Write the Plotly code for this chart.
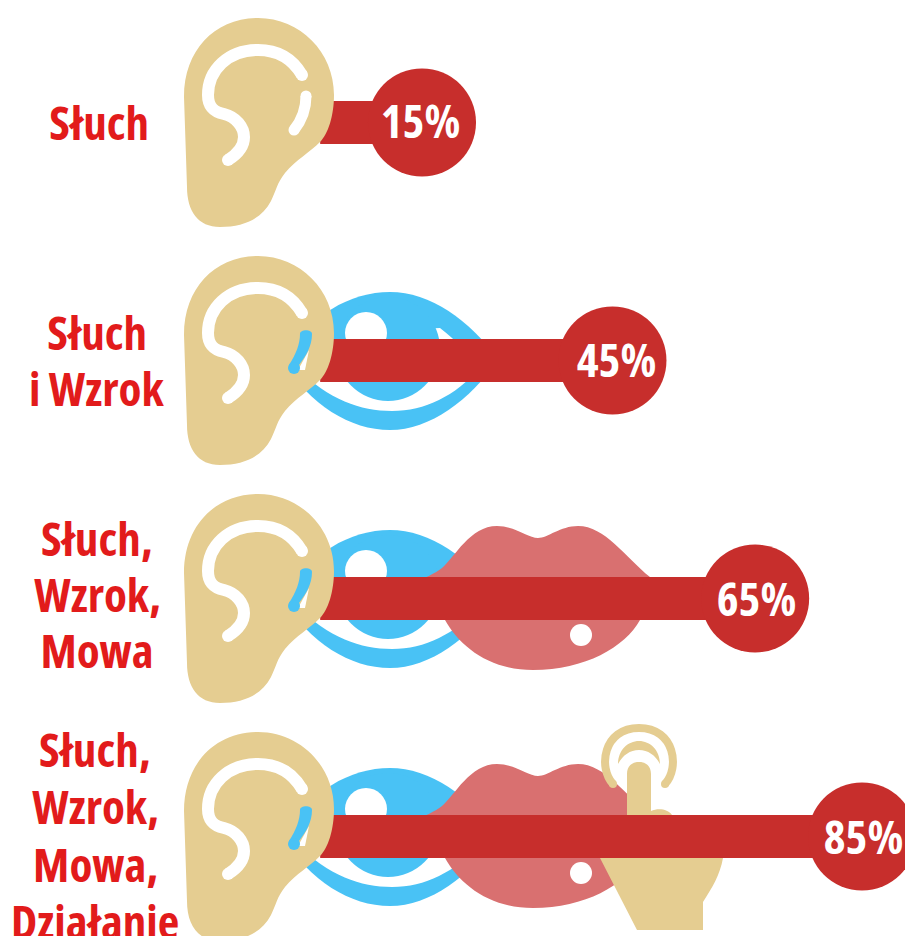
import re
import plotly.graph_objects as go

# ---- data ----
row_labels = [["Słuch"], ["Słuch", "i Wzrok"], ["Słuch,", "Wzrok,", "Mowa"], ["Słuch,", "Wzrok,", "Mowa,", "Działanie"]]
percent_values = [15, 45, 65, 85]
percent_text = ["15%", "45%", "65%", "85%"]
# bar lengths as drawn in the picture (the source infographic is not strictly to scale)
drawn_lengths = [15, 45.3, 68, 85]
senses_in_row = [1, 2, 3, 4]

# ---- style ----
EAR = "#E5CD91"; BLUE = "#49C2F5"; LIPS = "#D97070"; BAR = "#C72E2C"; LABEL = "#E21B1B"
FONT = "Open Sans, sans-serif"
ROW_PX = 238
W, H = 905, 936
PX_PER_UNIT = 6.286
X_LEFT = 15 - 422 / PX_PER_UNIT
Y_TOP = -122.5 / ROW_PX
BAR_BASE = -1.2

shapes = []

def shift(path, dy):
    return re.sub(r"(-?[\d.]+),(-?[\d.]+)", lambda m: f"{m.group(1)},{float(m.group(2)) + dy}", path)

def fill(path, color, dy, layer):
    shapes.append(dict(type="path", path=shift(path, dy), fillcolor=color, line=dict(width=0),
                       xref="x2", yref="y2", layer=layer))

def dot(cx, cy, r, color, dy, layer):
    shapes.append(dict(type="circle", x0=cx - r, x1=cx + r, y0=cy - r + dy, y1=cy + r + dy,
                       fillcolor=color, line=dict(width=0), xref="x2", yref="y2", layer=layer))

def stroke(path, color, width, ends, dy, layer):
    shapes.append(dict(type="path", path=shift(path, dy), fillcolor="rgba(0,0,0,0)",
                       line=dict(color=color, width=width), xref="x2", yref="y2", layer=layer))
    for (x, y) in ends:
        dot(x, y, width / 2, color, dy, layer)

# all icon outlines below are in row-4 pixel coordinates (bar centre y = 836.5)
EAR_PATH = ("M184,811 C184,764 215,732 258,732 C300,732 334,766 334,809 C334,830 328,848 320,856 "
            "C310,866 296,874 285,887 C277,897 276,905 271,915 C262,932 245,941 220,941 "
            "C198,941 187,925 187,901 Z")
ARC1 = ("M302,789 C292,772 277,764 258,764 C228,764 208,784 208,809 C208,822 215,826 224,828 "
        "C236,831 244,841 244,851 C244,861 236,869 228,874")
ARC1_ENDS = [(302, 789), (228, 874)]
ARC2 = "M306,810 C306,822 302,834 294,844"
ARC2_ENDS = [(306, 810), (294, 844)]
EYE_OUT = "M282,836 C310,791 350,768 390,768 C430,768 470,796 498,836 C470,876 430,906 390,906 C350,906 310,881 282,836 Z"
EYE_IN = "M296,844 C330,876 360,887 392,887 C425,887 455,872 480,844 C470,830 455,816 440,804 L400,806 L335,830 Z"
EYE_IN_COVERED = "M296,844 C330,876 360,887 392,887 C425,887 455,872 480,844 L470,830 L340,830 Z"
LIPS_PATH = ("M412,822 C425,815 435,812 442,806 C455,795 470,764 497,764 C515,764 528,776 538,776 "
             "C548,776 560,764 578,764 C605,764 625,795 650,815 L668,826 C655,835 648,845 640,858 "
             "C625,885 585,908 533,908 C490,908 460,885 445,858 C435,842 425,830 412,822 Z")
HAND = ("M627,774 C627,766 632,762 639,762 C646,762 651,766 651,774 L651,811 C658,808 668,809 672,815 "
        "L723,830 L723,858 C720,875 712,888 703,902 L703,930 L637,930 L600,858 L627,815 Z")
RING1 = "M613,784 C598,768 603,728 639,728 C675,728 680,768 665,784"
RING2 = ("M618,764 C618,750 628,741 639,741 C650,741 660,750 660,764 "
         "C655,755 648,750 639,750 C630,750 623,755 618,764 Z")
EAR_GAP = "M309,826 L298,846 L305,846 Z"
EAR_BLUE = "M300,810 C300,805 312,805 312,810 C312,822 306,832 299,841 L289,841 C296,830 300,820 300,810 Z"

for i, n in enumerate(senses_in_row):
    dy = (i - 3) * ROW_PX
    if n >= 2:
        fill(EYE_OUT, BLUE, dy, "below")
        fill(EYE_IN_COVERED if n >= 3 else EYE_IN, "#FFFFFF", dy, "below")
        dot(388, 825, 52, BLUE, dy, "below")
        dot(366, 809, 21, "#FFFFFF", dy, "below")
    if n >= 3:
        fill(LIPS_PATH, LIPS, dy, "below")
        dot(581, 873, 11, "#FFFFFF", dy, "below")
    if n >= 4:
        stroke(RING1, EAR, 8, [(613, 784), (665, 784)], dy, "below")
        fill(RING2, EAR, dy, "below")
        fill(HAND, EAR, dy, "below")
    # the ear sits on top of everything else
    fill(EAR_PATH, EAR, dy, "above")
    stroke(ARC1, "#FFFFFF", 12, ARC1_ENDS, dy, "above")
    if n >= 2:
        fill(EAR_GAP, "#FFFFFF", dy, "above")
        fill(EAR_BLUE, BLUE, dy, "above")
        dot(294, 844, 6, BLUE, dy, "above")
    else:
        stroke(ARC2, "#FFFFFF", 11, ARC2_ENDS, dy, "above")

rows = list(range(len(percent_values)))

fig = go.Figure()
fig.add_trace(go.Bar(
    y=rows, x=[v - BAR_BASE for v in drawn_lengths], base=BAR_BASE, orientation="h",
    width=43 / ROW_PX, marker=dict(color=BAR, line=dict(width=0)),
    customdata=percent_values, hoverinfo="skip", showlegend=False))
fig.add_trace(go.Scatter(
    y=rows, x=drawn_lengths, mode="markers",
    marker=dict(size=108, color=BAR, line=dict(width=0)), cliponaxis=False,
    hoverinfo="skip", showlegend=False))

annotations = []
x_nudges = [-2, 4, 1, 1]
y_nudges = [2.5, 1.5, 0.5, 0.5]
for x, y, label, xs, ys in zip(drawn_lengths, rows, percent_text, x_nudges, y_nudges):
    annotations.append(dict(
        text=label, x=x, y=y, xref="x", yref="y", xshift=xs, yshift=ys, showarrow=False,
        xanchor="center", yanchor="middle",
        font=dict(family=FONT, size=46.5, color="#FFFFFF", weight="bold")))

centers = [122, 360, 594, 835]
cx = [99, 96.5, 97, 95]
spacing = [56, 56, 56, 57.3]
for lines, yc, xc, sp in zip(row_labels, centers, cx, spacing):
    for j, line in enumerate(lines):
        annotations.append(dict(
            text=line, x=xc, y=yc + (j - (len(lines) - 1) / 2) * sp, xref="x2", yref="y2",
            showarrow=False, xanchor="center", yanchor="middle",
            font=dict(family=FONT, size=47, color=LABEL, weight="bold")))

fig.update_layout(
    width=W, height=H, margin=dict(l=0, r=0, t=0, b=0),
    paper_bgcolor="#FFFFFF", plot_bgcolor="rgba(0,0,0,0)",
    xaxis=dict(range=[X_LEFT, X_LEFT + W / PX_PER_UNIT], visible=False, fixedrange=True),
    yaxis=dict(range=[Y_TOP + H / ROW_PX, Y_TOP], visible=False, fixedrange=True),
    xaxis2=dict(range=[0, W], visible=False, overlaying="x", fixedrange=True),
    yaxis2=dict(range=[H, 0], visible=False, overlaying="y", fixedrange=True),
    shapes=shapes, annotations=annotations,
)
POST = """
document.body.style.margin = '0';
document.querySelectorAll('text').forEach(function (t) { t.style.fontStretch = '75%'; });
"""
fig.write_html("out.html", post_script=POST, config=dict(displayModeBar=False))
